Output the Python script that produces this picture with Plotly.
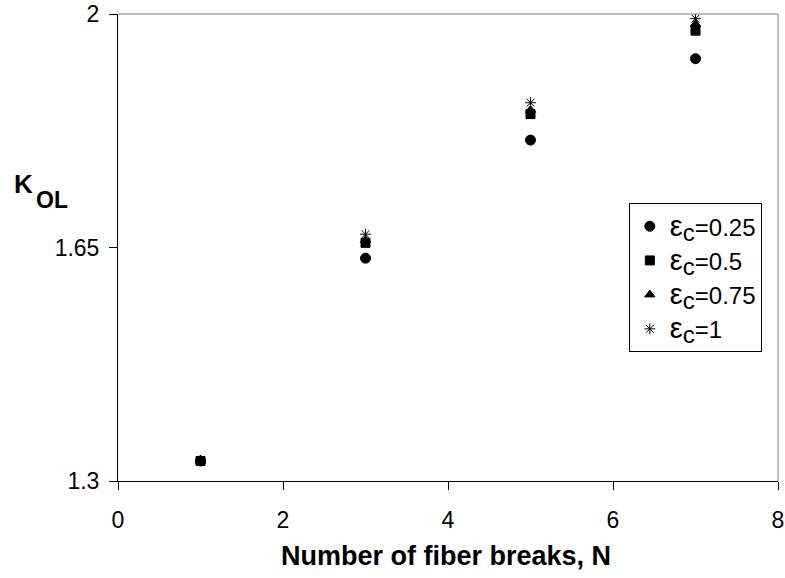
import plotly.graph_objects as go

# Number of fiber breaks
n_breaks = [1, 3, 5, 7]

# Overload factor K_OL for each critical strain value
eps_labels = ["0.25", "0.5", "0.75", "1"]
k_eps_025 = [1.330, 1.634, 1.811, 1.933]
k_eps_050 = [1.330, 1.657, 1.850, 1.975]
k_eps_075 = [1.330, 1.661, 1.856, 1.985]
k_eps_100 = [1.331, 1.670, 1.867, 1.993]

x_ticks = [0, 2, 4, 6, 8]
y_ticks = [1.3, 1.65, 2.0]
y_ticktext = ["1.3", "1.65", "2"]

series = [k_eps_025, k_eps_050, k_eps_075, k_eps_100]
symbols = ["circle", "square", "triangle-up", "asterisk"]
sizes = [10, 9, 9, 9]

FONT = "Arial, Liberation Sans, sans-serif"

fig = go.Figure()
for i, (lab, vals, sym, sz) in enumerate(zip(eps_labels, series, symbols, sizes)):
    fig.add_trace(go.Scatter(
        x=n_breaks, y=vals, mode="markers",
        legendgroup=f"g{i}",
        name=("<span style='font-size:29px'>ε</span>"
              "<sub><span style='font-size:24px'>c</span></sub>=" + lab),
        marker=dict(symbol=sym, size=sz, color="black",
                    line=dict(color="black", width=1)),
    ))

fig.update_layout(
    width=785, height=578,
    margin=dict(l=118, r=7, t=14, b=97),
    paper_bgcolor="white", plot_bgcolor="white",
    font=dict(family=FONT, size=23, color="black"),
    showlegend=True,
    legend=dict(
        x=0.774, y=0.595, xanchor="left", yanchor="top",
        bordercolor="black", borderwidth=1, bgcolor="white",
        font=dict(size=24), itemsizing="trace", tracegroupgap=0,
        itemwidth=30,
    ),
    xaxis=dict(
        range=[0, 8], tickvals=x_ticks, showgrid=False, zeroline=False,
        showline=True, linecolor="black", linewidth=1, automargin=False,
        ticks="outside", ticklen=8, tickcolor="black", ticklabelstandoff=10,
    ),
    yaxis=dict(
        range=[1.3, 2.0], tickvals=y_ticks, ticktext=y_ticktext,
        showgrid=False, zeroline=False, automargin=False,
        showline=True, linecolor="black", linewidth=1,
        ticks="outside", ticklen=8, tickcolor="black", ticklabelstandoff=5,
    ),
    shapes=[
        dict(type="line", xref="paper", yref="paper", x0=0, x1=1, y0=1, y1=1,
             line=dict(color="#808080", width=1)),
        dict(type="line", xref="paper", yref="paper", x0=1, x1=1, y0=0, y1=1,
             line=dict(color="#808080", width=1)),
    ],
    annotations=[
        dict(text="<b>Number of fiber breaks, N</b>", xref="paper", yref="paper",
             x=0.497, y=-0.161, xanchor="center", yanchor="middle",
             showarrow=False, font=dict(size=27)),
        dict(text="<b>K</b>",
             xref="paper", yref="paper",
             x=-0.160, y=0.636, xanchor="left", yanchor="middle",
             showarrow=False, font=dict(family=FONT, size=26)),
        dict(text="<b>OL</b>",
             xref="paper", yref="paper",
             x=-0.127, y=0.602, xanchor="left", yanchor="middle",
             showarrow=False, font=dict(family=FONT, size=23)),
    ],
)

fig.write_html("out.html")
